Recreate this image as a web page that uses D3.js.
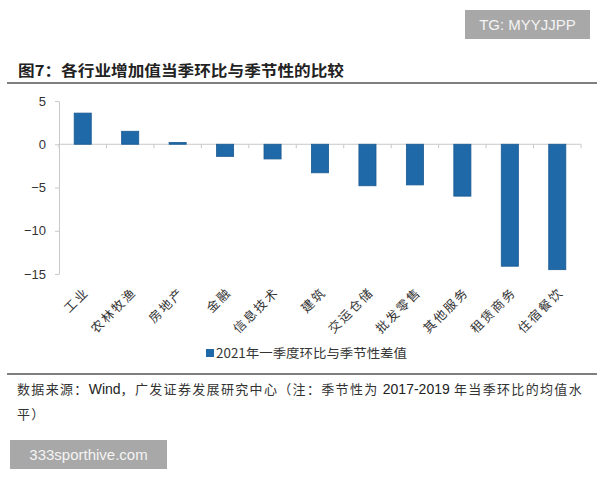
<!DOCTYPE html>
<html>
<head>
<meta charset="utf-8">
<script src="https://d3js.org/d3.v7.min.js"></script>
<style>
  body { margin: 0; background: #fff; }
  svg { display: block; }
</style>
</head>
<body>
<svg width="600" height="480"></svg>
<script>
  // data
  var categories = ["工业", "农林牧渔", "房地产", "金融", "信息技术", "建筑",
    "交运仓储", "批发零售", "其他服务", "租赁商务", "住宿餐饮"];
  var values = [3.6, 1.5, 0.2, -1.4, -1.7, -3.3, -4.8, -4.7, -6.0, -14.1, -14.5];
  var yTicks = [5, 0, -5, -10, -15];
  var seriesName = "2021年一季度环比与季节性差值";
  var title = "图7：各行业增加值当季环比与季节性的比较";
  // source line split into CJK / latin runs
  var source1 = [["数据来源：", 0], ["Wind", 1], ["，广发证券发展研究中心（注：季节性为 ", 0],
    ["2017-2019", 1], [" 年当季环比的均值水", 0]];
  var source2 = "平）";

  var cjk = "'Noto Sans CJK SC', 'Noto Sans', sans-serif";
  var latin = "Arial, 'Liberation Sans', sans-serif";
  var barColor = "#1f69a8";

  var svg = d3.select("svg");

  var x = d3.scaleBand()
    .domain(categories)
    .range([59, 581])
    .paddingInner(0.64)
    .paddingOuter(0.32);

  var y = d3.scaleLinear().domain([-15, 5]).range([274, 101]);

  // title + rule
  svg.append("text")
    .attr("x", 18)
    .attr("y", 76)
    .attr("textLength", 326)
    .attr("lengthAdjust", "spacingAndGlyphs")
    .style("font", "bold 15px " + cjk)
    .style("fill", "#222")
    .text(title);

  svg.append("line")
    .attr("x1", 7).attr("x2", 597)
    .attr("y1", 83).attr("y2", 83)
    .style("stroke", "#555")
    .style("stroke-width", 1.6);

  // y axis
  var yAxis = svg.append("g")
    .attr("transform", "translate(59,0)")
    .call(d3.axisLeft(y).tickValues(yTicks).tickSize(4).tickSizeOuter(0));
  yAxis.select(".domain").style("stroke", "#c8c8c8");
  yAxis.selectAll(".tick line").style("stroke", "#c8c8c8");
  yAxis.selectAll(".tick text")
    .attr("x", -13)
    .style("font", "13px " + latin)
    .style("fill", "#333");

  // zero line and category ticks
  var gap = x.step() * x.paddingInner();
  var bounds = categories.map(function (c) { return x(c) - gap / 2; });
  bounds.push(x(categories[categories.length - 1]) + x.bandwidth() + gap / 2);

  svg.append("line")
    .attr("x1", 59).attr("x2", bounds[bounds.length - 1])
    .attr("y1", y(0)).attr("y2", y(0))
    .style("stroke", "#c8c8c8");

  svg.selectAll(".cat-tick")
    .data(bounds)
    .enter()
    .append("line")
    .attr("class", "cat-tick")
    .attr("x1", function (d) { return d; })
    .attr("x2", function (d) { return d; })
    .attr("y1", y(0))
    .attr("y2", y(0) + 4)
    .style("stroke", "#c8c8c8");

  // bars
  svg.selectAll(".bar")
    .data(values)
    .enter()
    .append("rect")
    .attr("class", "bar")
    .attr("x", function (d, i) { return x(categories[i]); })
    .attr("width", x.bandwidth())
    .attr("y", function (d) { return y(Math.max(0, d)); })
    .attr("height", function (d) { return Math.abs(y(d) - y(0)); })
    .style("fill", barColor)
    .style("stroke", "#1a5a92")
    .style("stroke-width", 0.8);

  // category labels
  svg.selectAll(".cat-label")
    .data(categories)
    .enter()
    .append("text")
    .attr("class", "cat-label")
    .attr("transform", function (d) {
      return "translate(" + (x(d) + x.bandwidth() / 2 + 4) + ",290) rotate(-45)";
    })
    .attr("text-anchor", "end")
    .attr("dy", "0.35em")
    .style("font", "12.5px " + cjk)
    .style("letter-spacing", "2px")
    .style("fill", "#333")
    .text(function (d) { return d; });

  // legend
  svg.append("rect")
    .attr("x", 206).attr("y", 349)
    .attr("width", 8).attr("height", 8)
    .style("fill", barColor);
  svg.append("text")
    .attr("x", 216)
    .attr("y", 357.5)
    .attr("textLength", 191)
    .attr("lengthAdjust", "spacingAndGlyphs")
    .style("font", "12.5px " + cjk)
    .style("fill", "#333")
    .text(seriesName);

  svg.append("line")
    .attr("x1", 7).attr("x2", 597)
    .attr("y1", 374).attr("y2", 374)
    .style("stroke", "#555")
    .style("stroke-width", 1.6);

  // source note
  var src = svg.append("text")
    .attr("x", 17)
    .attr("y", 394)
    .style("font-size", "13px")
    .style("fill", "#333");
  var runs = src.selectAll("tspan")
    .data(source1)
    .enter()
    .append("tspan")
    .style("font-family", function (d) { return d[1] ? latin : cjk; })
    .style("font-size", function (d) { return d[1] ? "14px" : "13px"; })
    .style("fill", function (d) { return d[1] ? "#222" : "#333"; })
    .text(function (d) { return d[0]; });
  var natural = src.node().getComputedTextLength();
  var nCjk = d3.sum(source1, function (d) { return d[1] ? 0 : d[0].length; });
  var extra = Math.max(0, (566 - natural) / nCjk);
  runs.filter(function (d) { return !d[1]; }).style("letter-spacing", extra + "px");

  svg.append("text")
    .attr("x", 17)
    .attr("y", 419)
    .style("font", "13px " + cjk)
    .style("letter-spacing", extra + "px")
    .style("fill", "#333")
    .text(source2);

  // watermarks
  function badge(x0, y0, w, h, label) {
    svg.append("rect")
      .attr("x", x0).attr("y", y0)
      .attr("width", w).attr("height", h)
      .style("fill", "#a8a8a8");
    svg.append("text")
      .attr("x", x0 + w / 2)
      .attr("y", y0 + h / 2)
      .attr("dy", "0.36em")
      .attr("text-anchor", "middle")
      .style("font", "15px " + latin)
      .style("fill", "#f4f4f4")
      .text(label);
  }
  badge(465, 10, 125, 29, "TG: MYYJJPP");
  badge(10, 440, 157, 29, "333sporthive.com");
</script>
</body>
</html>
